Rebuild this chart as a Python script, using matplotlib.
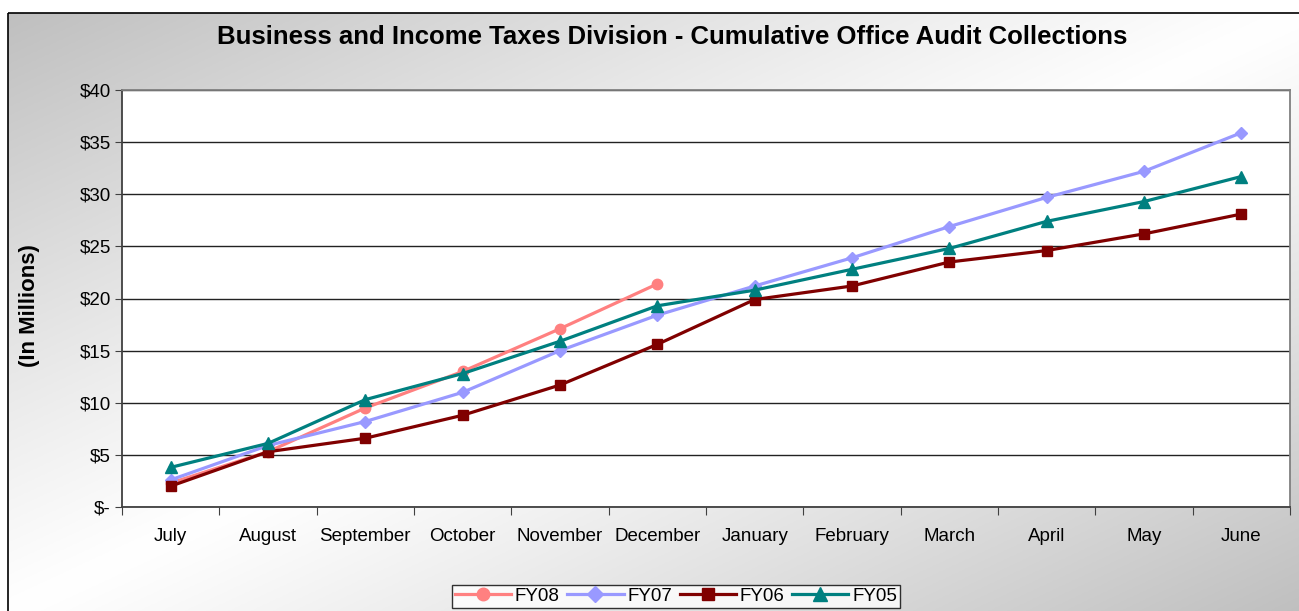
import matplotlib
matplotlib.use('Agg')
import matplotlib.pyplot as plt
import numpy as np
from matplotlib.patches import Rectangle

plt.rcParams['font.family'] = ['Liberation Sans', 'DejaVu Sans']

months = ['July', 'August', 'September', 'October', 'November', 'December',
          'January', 'February', 'March', 'April', 'May', 'June']
fy08 = [2.3, 5.3, 9.5, 13.0, 17.1, 21.4]
fy07 = [2.6, 5.9, 8.2, 11.0, 15.0, 18.4, 21.2, 23.9, 26.9, 29.7, 32.2, 35.9]
fy06 = [2.0, 5.3, 6.6, 8.8, 11.7, 15.6, 19.9, 21.2, 23.5, 24.6, 26.2, 28.1]
fy05 = [3.8, 6.1, 10.3, 12.8, 15.9, 19.3, 20.8, 22.8, 24.8, 27.4, 29.3, 31.7]
yticks = [0, 5, 10, 15, 20, 25, 30, 35, 40]
ytick_labels = ['$-', '$5', '$10', '$15', '$20', '$25', '$30', '$35', '$40']
series_names = ['FY08', 'FY07', 'FY06', 'FY05']

W, H = 1299, 611
fig = plt.figure(figsize=(W / 100, H / 100), dpi=100)
fig.patch.set_facecolor('white')

# background gradient inside outer border
bg = fig.add_axes([0, 0, 1, 1])
bg.set_xlim(0, W)
bg.set_ylim(H, 0)
bg.axis('off')
x0, y0 = 8, 13
xs = np.linspace(0, 1, 400)
ys = np.linspace(0, 1, 200)
X, Y = np.meshgrid(xs, ys)
t = (X + Y) / 2
v = 1 - 0.25 * np.abs(2 * t - 1) ** 1.1
img = np.dstack([v, v, v])
bg.imshow(img, extent=[x0, W + 2, H + 2, y0], aspect='auto', zorder=0)
bg.add_patch(Rectangle((x0, y0), W, H, fill=False, edgecolor='black', lw=1.2, zorder=1))

# main axes
left, right, top, bottom = 122, 1290, 90, 507
ax = fig.add_axes([left / W, 1 - bottom / H, (right - left) / W, (bottom - top) / H])
ax.set_facecolor('white')
x = np.arange(len(months))

ax.plot(x[:len(fy08)], fy08, color='#FF8080', marker='o', ms=7.5, lw=2.3, label=series_names[0], zorder=3)
ax.plot(x, fy07, color='#9999FF', marker='D', ms=6.5, lw=2.3, label=series_names[1], zorder=4)
ax.plot(x, fy06, color='#800000', marker='s', ms=7, lw=2.3, label=series_names[2], zorder=5)
ax.plot(x, fy05, color='#008080', marker='^', ms=8.5, lw=2.3, label=series_names[3], zorder=6)

ax.set_xlim(-0.5, len(months) - 0.5)
ax.set_ylim(0, 40)
ax.set_yticks(yticks)
ax.set_yticklabels(ytick_labels, fontsize=13.5)
ax.yaxis.grid(True, color='#222222', lw=1)
ax.set_axisbelow(True)

ax.set_xticks(np.arange(-0.5, len(months), 1.0))
ax.set_xticklabels([])
ax.set_xticks(x, minor=True)
ax.set_xticklabels(months, minor=True, fontsize=13.5)
ax.tick_params(axis='x', which='major', length=6, direction='out', color='#404040')
ax.tick_params(axis='x', which='minor', length=0, pad=15)
ax.tick_params(axis='y', length=5, direction='out', color='#404040', pad=3)

for s in ['left', 'bottom']:
    ax.spines[s].set_color('#404040')
    ax.spines[s].set_linewidth(1.3)
for s in ['top', 'right']:
    ax.spines[s].set_color('#808080')
    ax.spines[s].set_linewidth(1.3)

fig.text(672 / W, 1 - 37 / H,
         'Business and Income Taxes Division - Cumulative Office Audit Collections',
         ha='center', va='center', fontsize=18.5, fontweight='bold')
fig.text(30 / W, 1 - 306 / H, '(In Millions)', rotation=90, ha='center', va='center',
         fontsize=16, fontweight='bold')

handles, labels = ax.get_legend_handles_labels()
leg = fig.legend(handles, labels, loc='upper center', bbox_to_anchor=(676 / W, 1 - 585 / H),
                 ncol=4, fontsize=13.5, frameon=True, fancybox=False, edgecolor='black',
                 handlelength=3.0, columnspacing=0.4, handletextpad=0.2, borderpad=0.15,
                 borderaxespad=0, markerscale=1.2)
leg.get_frame().set_linewidth(1.0)
leg.get_frame().set_facecolor('white')

fig.savefig('out.png', dpi=100)
